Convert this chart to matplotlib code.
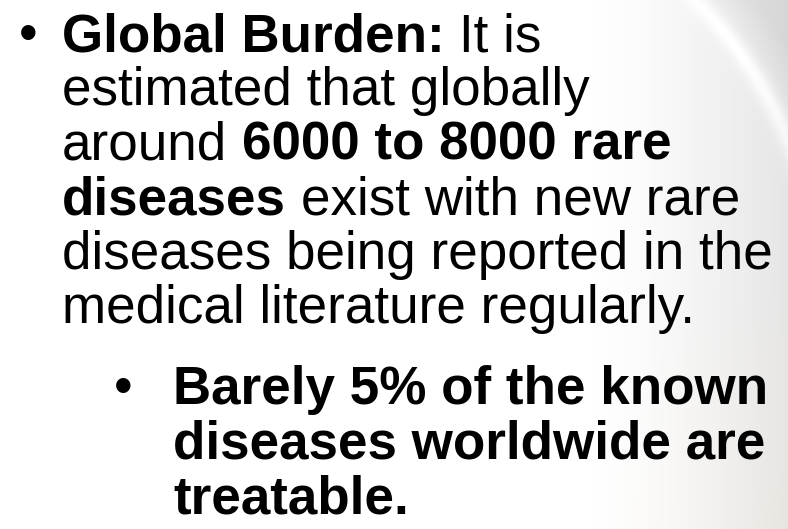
import numpy as np
import matplotlib
matplotlib.use("Agg")
import matplotlib.pyplot as plt

W, H = 788, 529
DPI = 100
FONT = "Liberation Sans"
FS = 38.2

# Text content: each line is a list of (text, bold) segments
main_lines = [
    [("Global Burden:", True), ("It is", False)],
    [("estimated that globally", False)],
    [("around", False), ("6000 to 8000 rare", True)],
    [("diseases", True), ("exist with new rare", False)],
    [("diseases being reported in the", False)],
    [("medical literature regularly.", False)],
]
sub_lines = [
    [("Barely 5% of the known", True)],
    [("diseases worldwide are", True)],
    [("treatable.", True)],
]

fig = plt.figure(figsize=(W / DPI, H / DPI), dpi=DPI)
bg = fig.add_axes([0, 0, 1, 1])
bg.axis("off")

# background: white to light grey toward the right, with a curved highlight
xx, yy = np.meshgrid(np.arange(W), np.arange(H))
t = np.clip((xx - 590) / 198.0, 0, 1)
base = 1.0 - 0.10 * t ** 1.4
cx, cy, r = 413, 289, 407
d = np.sqrt((xx - cx) ** 2 + (yy - cy) ** 2)
topw = np.clip((260 - yy) / 120.0, 0, 1) * np.clip((xx - 600) / 60.0, 0, 1)
corner = np.clip((d - r) / 40.0, 0, 1) * topw
base = base - 0.06 * corner
highlight = np.exp(-((d - r + 4) / 9.0) ** 2) * np.clip((xx - 640) / 100, 0, 1) * topw
base = np.clip(base + 0.07 * highlight, 0, 1)
warm = np.clip((yy - 280) / 249.0, 0, 1) * t
img = np.dstack([base + 0.01 * warm, base - 0.002 * warm, base - 0.02 * warm])
img = np.clip(img, 0, 1)
bg.imshow(img, extent=(0, W, H, 0), aspect="auto", interpolation="bilinear")
bg.set_xlim(0, W)
bg.set_ylim(H, 0)

renderer = fig.canvas.get_renderer()


def width_of(s, bold):
    tt = bg.text(0, 0, s, fontsize=FS, family=FONT,
                 fontweight="bold" if bold else "normal")
    w = tt.get_window_extent(renderer).width
    tt.remove()
    return w


def draw_line(x0, y, segs):
    x = x0
    for s, bold in segs:
        tt = bg.text(x, y, s, fontsize=FS, family=FONT,
                     fontweight="bold" if bold else "normal",
                     va="baseline", ha="left", color="black")
        w = tt.get_window_extent(renderer).width
        sp = width_of("a b", bold) - width_of("ab", bold)
        x += w + sp


pitch = 54.5
y0 = 51
bg.text(19, y0, "\u2022", fontsize=FS, family=FONT, va="baseline", ha="left")
for i, segs in enumerate(main_lines):
    draw_line(62, y0 + i * pitch, segs)

ys = y0 + len(main_lines) * pitch + 26
bg.text(114, ys, "\u2022", fontsize=FS, family=FONT, va="baseline", ha="left")
for i, segs in enumerate(sub_lines):
    draw_line(173, ys + i * pitch, segs)

fig.savefig("out.png", dpi=DPI)
